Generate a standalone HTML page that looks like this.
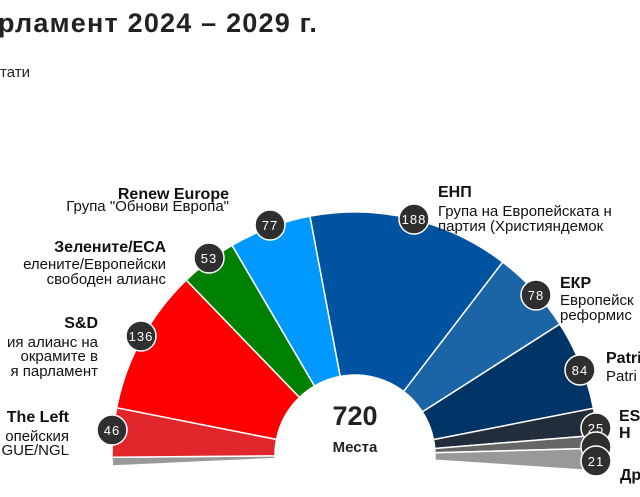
<!DOCTYPE html>
<html><head><meta charset="utf-8"><style>
html,body{margin:0;padding:0;background:#fff;width:640px;height:497px;overflow:hidden}
svg{display:block;font-family:"Liberation Sans",sans-serif}
.b{font-weight:bold;font-size:16px;fill:#111}
.r{font-size:15px;fill:#111}
</style></head><body>
<svg id="s" width="640" height="497" viewBox="0 0 640 497">
<text x="-2" y="32" style="font-weight:bold;font-size:27px;fill:#222;letter-spacing:1.2px">рламент 2024 – 2029 г.</text>
<text x="0" y="77" style="font-size:15px;fill:#222">тати</text>
<g id="w"></g>
<circle cx="355" cy="455" r="80" fill="#fff"/>
<text x="355" y="425" text-anchor="middle" style="font-weight:bold;font-size:27px;fill:#222">720</text>
<text x="355" y="452" text-anchor="middle" style="font-weight:bold;font-size:15px;fill:#222">Места</text>
<g id="c"></g>
<text class="b" x="229" y="199" text-anchor="end">Renew Europe</text>
<text class="r" x="229" y="211" text-anchor="end">Група "Обнови Европа"</text>
<text class="b" x="166" y="252" text-anchor="end">Зелените/ЕСА</text>
<text class="r" x="166" y="269" text-anchor="end">еленитe/Европейски</text>
<text class="r" x="166" y="284" text-anchor="end">свободен алианс</text>
<text class="b" x="98" y="328" text-anchor="end">S&amp;D</text>
<text class="r" x="98" y="347" text-anchor="end">ия алианс на</text>
<text class="r" x="98" y="361" text-anchor="end">окрамите в</text>
<text class="r" x="98" y="376" text-anchor="end">я парламент</text>
<text class="b" x="69" y="422" text-anchor="end">The Left</text>
<text class="r" x="69" y="441" text-anchor="end">опейския</text>
<text class="r" x="69" y="455" text-anchor="end">GUE/NGL</text>
<text class="b" x="438" y="197">ЕНП</text>
<text class="r" x="438" y="216">Група на Европейската н</text>
<text class="r" x="438" y="231">партия (Християндемок</text>
<text class="b" x="560" y="288">ЕКР</text>
<text class="r" x="560" y="305">Европейск</text>
<text class="r" x="560" y="320">реформис</text>
<text class="b" x="606" y="363">Patri</text>
<text class="r" x="606" y="381">Patri</text>
<text class="b" x="619" y="421">ES</text>
<text class="b" x="619" y="438">Н</text>
<text class="b" x="620" y="480">Др</text>
</svg>
<script>
var cx=355,cy=455,R=243,r=80,k=0.256,a=182.6;
var segs=[[8,"#999"],[46,"#e1262c"],[136,"#fe0000"],[53,"#008000"],[77,"#0099ff"],[188,"#0053a0"],[78,"#1b64a6"],[84,"#003366"],[25,"#222d3c"],[12,"#666"],[21,"#999"]];
var g=document.getElementById("w"),h="";
function p(rad,deg){var t=deg*Math.PI/180;return (cx+rad*Math.cos(t)).toFixed(1)+","+(cy-rad*Math.sin(t)).toFixed(1);}
segs.forEach(function(s){var b=a-s[0]*k;var l=(a-b)>180?1:0;
h+='<path d="M'+p(r,a)+' L'+p(R,a)+' A'+R+' '+R+' 0 '+l+' 1 '+p(R,b)+' L'+p(r,b)+' A'+r+' '+r+' 0 '+l+' 0 '+p(r,a)+'Z" fill="'+s[1]+'" stroke="#fff" stroke-width="1.5"/>';a=b;});
g.innerHTML=h;
var cs=[[112,430,"46"],[141,336,"136"],[209,258,"53"],[270,225,"77"],[414,219,"188"],[536,295,"78"],[580,370,"84"],[596,428,"25"],[596,447,""],[596,461,"21"]];
var c="";cs.forEach(function(q){c+='<circle cx="'+q[0]+'" cy="'+q[1]+'" r="15" fill="#2f2f2f" stroke="#fff" stroke-width="1.5"/><text x="'+q[0]+'" y="'+(q[1]+5)+'" text-anchor="middle" style="font-size:13px;fill:#fff;letter-spacing:1px">'+q[2]+'</text>';});
document.getElementById("c").innerHTML=c;
</script>
</body></html>
